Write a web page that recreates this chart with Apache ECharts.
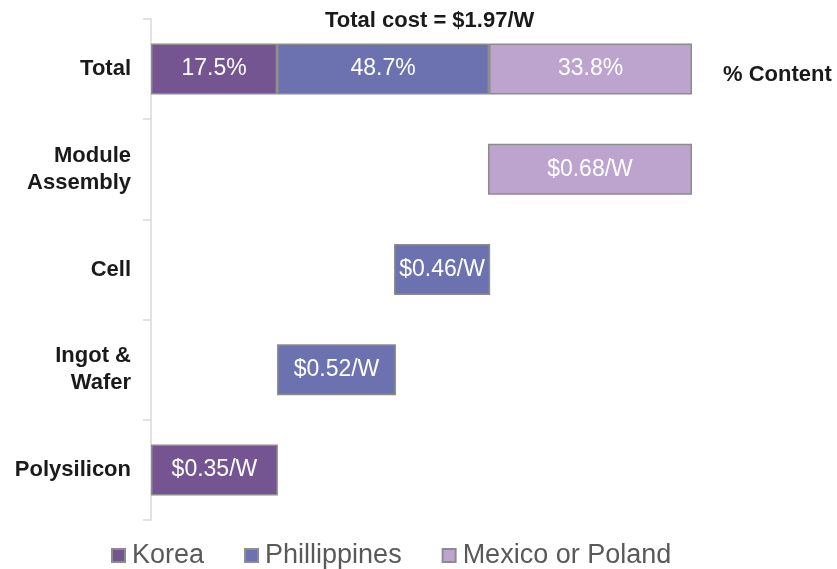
<!DOCTYPE html>
<html>
<head>
<meta charset="utf-8">
<title>Total cost breakdown</title>
<script src="https://cdn.jsdelivr.net/npm/echarts@6/dist/echarts.min.js"></script>
<style>
    html, body { margin: 0; padding: 0; background: #fff; }
    #chart { width: 837px; height: 569px; }
</style>
</head>
<body>
<div id="chart"></div>
<script>
// 类别（自下而上）
const categories = ['Polysilicon', 'Ingot &\nWafer', 'Cell', 'Module\nAssembly', 'Total'];

// 条形长度（按图中读出的长度，单位 $/W，总长 1.97）
const offsetValues = [0, 0.459, 0.885, 1.227, 0];
const koreaValues = [0.462, '-', '-', '-', 0.459];
const philValues = ['-', 0.433, 0.350, '-', 0.772];
const mexicoValues = ['-', '-', '-', 0.743, 0.739];

// 条形上的文字
const koreaLabels = ['$0.35/W', '', '', '', '17.5%'];
const philLabels = ['', '$0.52/W', '$0.46/W', '', '48.7%'];
const mexicoLabels = ['', '', '', '$0.68/W', '33.8%'];

const axisMax = 1.97;
const titleText = 'Total cost = $1.97/W';
const sideText = '% Content';

const font = 'Liberation Sans, Arial, sans-serif';

document.addEventListener('DOMContentLoaded', function () {
    const chart = echarts.init(document.getElementById('chart'));

    function barSeries(name, values, labels, color) {
        return {
            name: name,
            type: 'bar',
            stack: 'total',
            barWidth: 51,
            data: values,
            itemStyle: { color: color, borderColor: '#8c8c8c', borderWidth: 1.5 },
            label: {
                show: true,
                position: 'inside',
                color: '#fff',
                fontSize: 23,
                fontFamily: font,
                formatter: p => labels[p.dataIndex]
            },
            emphasis: { disabled: true }
        };
    }

    const option = {
        animation: false,
        title: [
            {
                text: titleText,
                left: 320,
                top: 5,
                textStyle: { fontSize: 22, fontWeight: 'bold', color: '#1a1a1a', fontFamily: font }
            },
            {
                text: sideText,
                left: 718,
                top: 59,
                textStyle: { fontSize: 22, fontWeight: 'bold', color: '#1a1a1a', fontFamily: font }
            }
        ],
        legend: {
            top: 537,
            left: 106,
            icon: 'rect',
            itemWidth: 13,
            itemHeight: 13,
            itemGap: 40,
            data: ['Korea', 'Phillippines', 'Mexico or Poland'],
            textStyle: { fontSize: 27, color: '#595959', fontFamily: font, padding: [0, 0, 0, 2] }
        },
        grid: { left: 151, right: 145, top: 19, bottom: 49, containLabel: false },
        xAxis: {
            type: 'value',
            min: 0,
            max: axisMax,
            show: false
        },
        yAxis: {
            type: 'category',
            data: categories,
            axisLine: { lineStyle: { color: '#d9d9d9', width: 1.5 } },
            axisTick: { show: true, length: 8, lineStyle: { color: '#d9d9d9', width: 1.5 } },
            axisLabel: {
                margin: 20,
                fontSize: 22,
                fontWeight: 'bold',
                color: '#1a1a1a',
                fontFamily: font,
                lineHeight: 27,
                align: 'right'
            }
        },
        series: [
            {
                name: 'offset',
                type: 'bar',
                stack: 'total',
                barWidth: 51,
                data: offsetValues,
                itemStyle: { color: 'transparent', borderWidth: 0 },
                label: { show: false },
                emphasis: { disabled: true },
                tooltip: { show: false }
            },
            barSeries('Korea', koreaValues, koreaLabels, '#745491'),
            barSeries('Phillippines', philValues, philLabels, '#6c72b0'),
            barSeries('Mexico or Poland', mexicoValues, mexicoLabels, '#bca4ce')
        ]
    };

    chart.setOption(option);
    window.addEventListener('resize', () => chart.resize());
});
</script>
</body>
</html>
